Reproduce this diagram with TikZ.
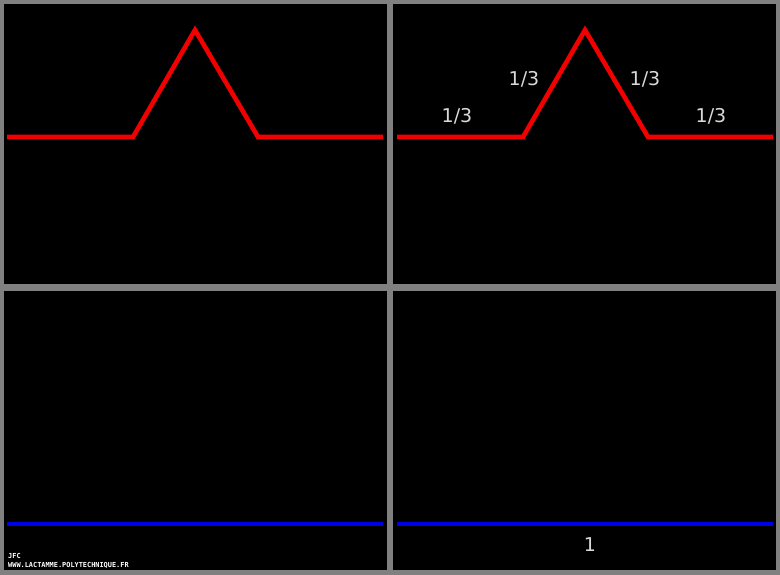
\documentclass[tikz,border=0pt]{standalone}
\usepackage{fontspec}
\setmainfont{DejaVu Sans}
\setmonofont{DejaVu Sans Mono}
\begin{document}
\begin{tikzpicture}[x=1pt,y=-1pt,
    koch/.style={red!95!black,line width=4.6pt},
    segm/.style={blue!90!black,line width=4.6pt},
    lab/.style={text=gray!30,font=\fontsize{19}{19}\selectfont,inner sep=0pt},
    credit/.style={text=white,font=\ttfamily\bfseries\fontsize{6.9}{7}\selectfont,inner sep=0pt,anchor=base west}]
        % panels
        \fill[gray] (0,0) rectangle (780,575);
        \fill[black] (4,4) rectangle (387,284);
        \fill[black] (393,4) rectangle (776,284);
        \fill[black] (4,291) rectangle (387,570);
        \fill[black] (393,291) rectangle (776,570);
        % top left: one Koch step
        \coordinate (A1) at (7,137);
        \coordinate (B1) at (133,137);
        \coordinate (C1) at (195,30);
        \coordinate (D1) at (258,137);
        \coordinate (E1) at (383,137);
        \draw[koch] (A1) -- (B1) -- (C1) -- (D1) -- (E1);
        % top right: same step with lengths
        \coordinate (A2) at (397,137);
        \coordinate (B2) at (523,137);
        \coordinate (C2) at (585,30);
        \coordinate (D2) at (648,137);
        \coordinate (E2) at (773,137);
        \draw[koch] (A2) -- (B2) -- (C2) -- (D2) -- (E2);
        \node[lab] (L1) at (457,116){1/3};
        \node[lab] (L2) at (524,79){1/3};
        \node[lab] (L3) at (645,79){1/3};
        \node[lab] (L4) at (711,116){1/3};
        % bottom: the initial segment
        \coordinate (P1) at (7,524);
        \coordinate (Q1) at (383,524);
        \draw[segm] (P1) -- (Q1);
        \coordinate (P2) at (397,524);
        \coordinate (Q2) at (773,524);
        \draw[segm] (P2) -- (Q2);
        \node[lab] (L5) at (590,545){1};
        % credit
        \node[credit] (J) at (8,558){JFC};
        \node[credit] (W) at (8,567){WWW.LACTAMME.POLYTECHNIQUE.FR};
    \end{tikzpicture}
\end{document}
